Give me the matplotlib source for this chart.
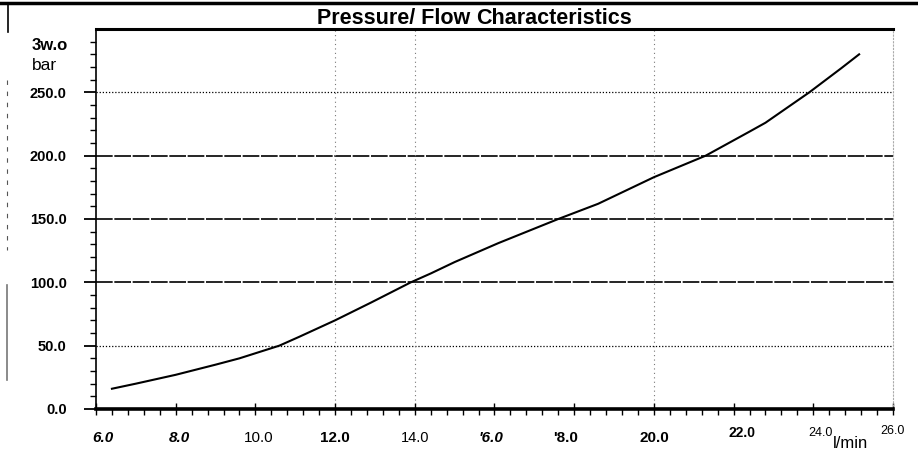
import matplotlib
matplotlib.use("Agg")
import matplotlib.pyplot as plt
from matplotlib.lines import Line2D
from matplotlib.transforms import ScaledTranslation
import numpy as np

# Data
flow = [6.4, 7.0, 8.0, 9.0, 9.6, 10.0, 10.6, 11.1, 12.0, 12.9, 13.9, 14.4, 15.0, 16.1,
        17.6, 18.6, 20.0, 21.3, 22.4, 22.8, 23.9, 24.7, 25.15]
pressure = [16, 20, 27, 35, 40, 44, 50, 57, 70, 84, 100, 107, 116, 131,
            150, 162, 183, 200, 219, 226, 250, 269, 280]

x_ticks = [6, 8, 10, 12, 14, 16, 18, 20, 22, 24, 26]
x_tick_labels = ["6.0", "8.0", "10.0", "12.0", "14.0", "'6.0", "'8.0", "20.0", "22.0", "24.0", "26.0"]
y_ticks = [0, 50, 100, 150, 200, 250]
y_tick_labels = ["0.0", "50.0", "100.0", "150.0", "200.0", "250.0"]
title_a = "Pressure/ Flow "
title_b = "Characteristics"
y_top_label = "3w.o"
y_unit = "bar"
x_unit = "l/min"

FONT = "Liberation Sans"
fig = plt.figure(figsize=(9.18, 4.58), dpi=100)
ax = fig.add_axes([96/918, 1-409/458, (893-96)/918, (409-29)/458])
ax.set_xlim(6, 26)
ax.set_ylim(0, 300)

# grid lines
for yv in [50, 250]:
    ax.axhline(yv, color="black", lw=0.9, ls=(0, (1, 1.5)), zorder=1)
for yv in [100, 150, 200]:
    ax.axhline(yv, color="black", lw=1.2, ls=(0, (10, 1)), zorder=1)
for xv in [12, 14, 20]:
    ax.axvline(xv, color="#777777", lw=0.8, ls=(0, (1, 3)), zorder=1)

ax.plot(flow, pressure, color="black", lw=1.5, zorder=3)

# spines
ax.spines["top"].set_linewidth(2.2)
ax.spines["bottom"].set_linewidth(2.6)
ax.spines["left"].set_linewidth(1.2)
ax.spines["right"].set_linewidth(0.8)
ax.spines["right"].set_color("#aaaaaa")
ax.spines["right"].set_linestyle((0, (1, 2)))

# y ticks
ax.set_yticks(y_ticks)
ax.set_yticklabels(y_tick_labels, fontsize=10.5, fontweight="bold", family=FONT)
ax.set_yticks(np.arange(0, 300, 10), minor=True)
ax.tick_params(axis="y", which="major", direction="out", length=9, width=1.3, pad=12)
ax.tick_params(axis="y", which="minor", direction="out", length=4, width=1.0)

# x ticks
ax.set_xticks(x_ticks)
ax.set_xticklabels(x_tick_labels)
ax.set_xticks(np.arange(6, 26.01, 0.4), minor=True)
ax.tick_params(axis="x", which="major", direction="inout", length=8, width=1.0, pad=12)
ax.tick_params(axis="x", which="minor", direction="out", length=4, width=1.0)
styles = {
    "6.0": ("italic", "bold", 11, 7, 0), "8.0": ("italic", "bold", 11, 4, 0),
    "10.0": ("normal", "normal", 11, 3, 0), "12.0": ("normal", "bold", 11, 0, 0),
    "14.0": ("normal", "normal", 10.5, 0, 0), "'6.0": ("italic", "bold", 11, -4, 0),
    "'8.0": ("normal", "bold", 11, -9, 0), "20.0": ("normal", "bold", 11, 0, 0),
    "22.0": ("normal", "bold", 10, 8, 5), "24.0": ("normal", "normal", 9, 7, 4),
    "26.0": ("normal", "normal", 9, 0, 6),
}
for lab in ax.get_xticklabels():
    st, wt, sz, dx, dy = styles[lab.get_text()]
    lab.set_family(FONT)
    lab.set_fontstyle(st)
    lab.set_fontweight(wt)
    lab.set_fontsize(sz)
    lab.set_transform(lab.get_transform() + ScaledTranslation(dx/100, dy/100, fig.dpi_scale_trans))

# unit labels
fig.text(32/918, 1-46/458, y_top_label, ha="left", va="center",
         fontsize=12, fontweight="bold", family=FONT)
fig.text(32/918, 1-65/458, y_unit, ha="left", va="center",
         fontsize=12.5, family=FONT)
fig.text(850/918, 1-443/458, x_unit, ha="center", va="center", fontsize=12,
         family=FONT)

# title sitting on top spine
fig.text(476/918, 1-18/458, title_a, ha="right", va="center", fontsize=15.5,
         fontweight="bold", family=FONT)
fig.text(476/918, 1-18/458, title_b, ha="left", va="center", fontsize=15.5,
         fontweight="heavy", family=FONT)

# scan border fragments
fig.add_artist(Line2D([0, 1], [1-3/458, 1-3/458], color="black", lw=2.5))
fig.add_artist(Line2D([8/918, 8/918], [1-5/458, 1-32/458], color="black", lw=1.2))
fig.add_artist(Line2D([7/918, 7/918], [1-285/458, 1-380/458], color="#777777", lw=1.2))
fig.add_artist(Line2D([7/918, 7/918], [1-80/458, 1-250/458], color="#555555", lw=0.8,
                      ls=(0, (4, 6))))

fig.savefig("out.png", dpi=100)
